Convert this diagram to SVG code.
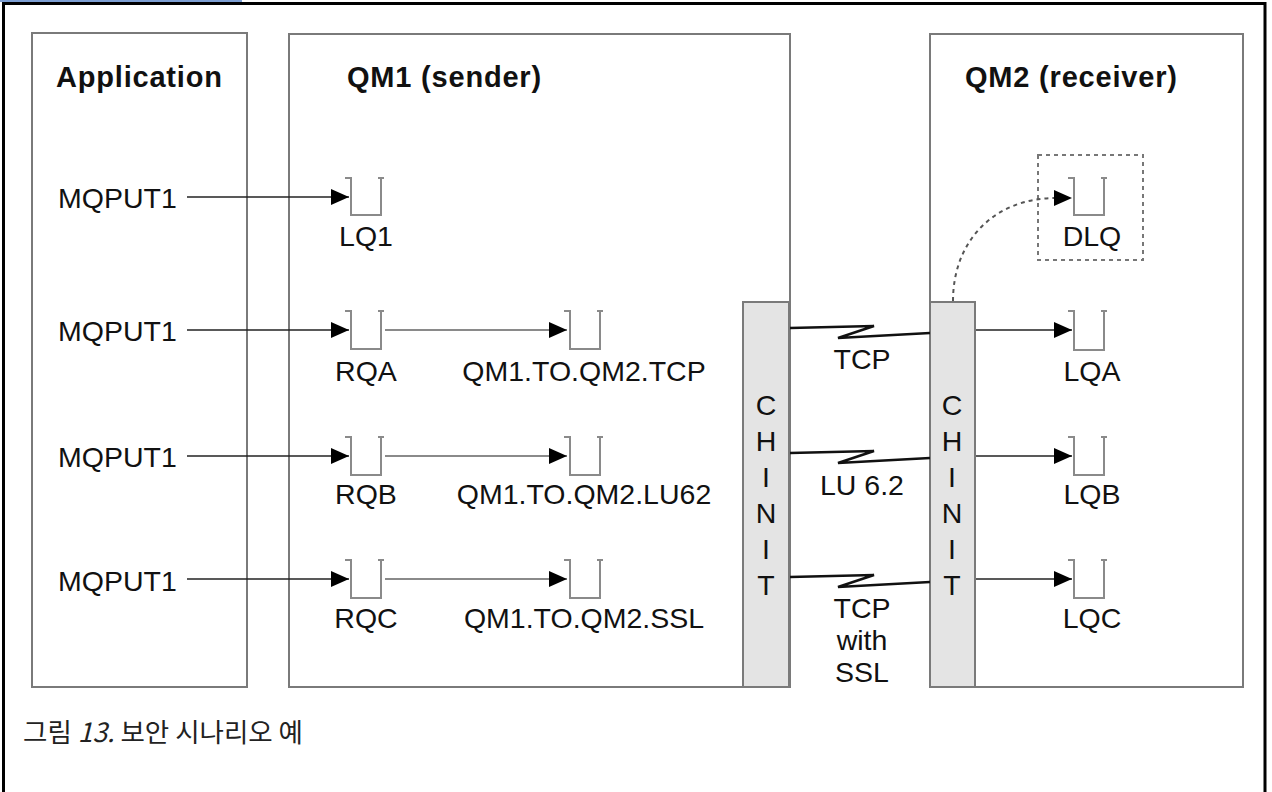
<svg xmlns="http://www.w3.org/2000/svg" width="1272" height="792" viewBox="0 0 1272 792">
<defs>
<style>
.box{fill:#fff;stroke:#7a7a7a;stroke-width:2}
.chin{fill:#e4e4e4;stroke:#7a7a7a;stroke-width:2}
.t{font-family:"Liberation Sans",Arial,sans-serif;font-size:28.5px;fill:#111}
.h{font-family:"Liberation Sans",Arial,sans-serif;font-size:29px;font-weight:bold;letter-spacing:0.8px;fill:#111}
.q{fill:none;stroke:#8a8a8a;stroke-width:2}
.ln{fill:none;stroke:#222;stroke-width:1.5}
.gl{fill:none;stroke:#8a8a8a;stroke-width:2}
.z{fill:none;stroke:#111;stroke-width:2.5;stroke-linejoin:miter}
.cap{font-family:"Noto Sans CJK KR","Noto Sans",sans-serif;font-size:26.5px;fill:#222}
</style>
<marker id="ah" viewBox="0 0 18 16" refX="18" refY="8" markerWidth="18" markerHeight="16" markerUnits="userSpaceOnUse" orient="auto">
<path d="M0,0 L18,8 L0,16 Z" fill="#000"/>
</marker>
</defs>
<rect x="0" y="0" width="1272" height="792" fill="#fff"/>
<rect x="0" y="0" width="242" height="2" fill="#7d9fd3"/>
<path d="M3.5,792 V3.5 H1265 V792" fill="none" stroke="#000" stroke-width="3"/>

<g id="application">
<rect class="box" x="32" y="33" width="215" height="654"/>
<text class="h" x="56" y="87">Application</text>
<text class="t" x="58" y="207.5">MQPUT1</text>
<text class="t" x="58" y="340.5">MQPUT1</text>
<text class="t" x="58" y="466.5">MQPUT1</text>
<text class="t" x="58" y="590.5">MQPUT1</text>
</g>

<g id="qm1">
<rect class="box" x="289" y="34" width="501" height="653"/>
<text class="h" x="347" y="87">QM1 (sender)</text>
</g>

<g id="qm2">
<rect class="box" x="930" y="34" width="313" height="653"/>
<text class="h" x="965" y="87">QM2 (receiver)</text>
</g>

<g id="chinit1">
<rect class="chin" x="743" y="302" width="46" height="385"/>
<g class="t" text-anchor="middle">
<text x="766" y="415">C</text><text x="766" y="451">H</text><text x="766" y="487">I</text>
<text x="766" y="523">N</text><text x="766" y="559">I</text><text x="766" y="595">T</text>
</g>
</g>

<g id="chinit2">
<rect class="chin" x="930" y="302" width="45" height="385"/>
<g class="t" text-anchor="middle">
<text x="952" y="415">C</text><text x="952" y="451">H</text><text x="952" y="487">I</text>
<text x="952" y="523">N</text><text x="952" y="559">I</text><text x="952" y="595">T</text>
</g>
</g>

<g id="lq1">
<path class="q" d="M345,178 H351 V215 H381 V177 M378,178 H384"/>
<text class="t" x="366" y="246" text-anchor="middle">LQ1</text>
</g>
<g id="rqa">
<path class="q" d="M345,311 H351 V349 H381 V310 M378,311 H384"/>
<text class="t" x="366" y="381" text-anchor="middle">RQA</text>
</g>
<g id="rqb">
<path class="q" d="M345,437 H351 V475 H381 V436 M378,437 H384"/>
<text class="t" x="366" y="504" text-anchor="middle">RQB</text>
</g>
<g id="rqc">
<path class="q" d="M345,560 H351 V598 H381 V559 M378,560 H384"/>
<text class="t" x="366" y="628" text-anchor="middle">RQC</text>
</g>
<g id="xq-tcp">
<path class="q" d="M564,311 H570 V349 H600 V310 M597,311 H603"/>
<text class="t" x="584" y="381" text-anchor="middle">QM1.TO.QM2.TCP</text>
</g>
<g id="xq-lu62">
<path class="q" d="M564,437 H570 V475 H600 V436 M597,437 H603"/>
<text class="t" x="584" y="504" text-anchor="middle">QM1.TO.QM2.LU62</text>
</g>
<g id="xq-ssl">
<path class="q" d="M564,560 H570 V598 H600 V559 M597,560 H603"/>
<text class="t" x="584" y="628" text-anchor="middle">QM1.TO.QM2.SSL</text>
</g>
<g id="dlq">
<rect x="1038" y="155" width="105" height="105" fill="none" stroke="#777" stroke-width="2" stroke-dasharray="4,4"/>
<path class="q" d="M1068,178 H1074 V215 H1104 V177 M1101,178 H1107"/>
<text class="t" x="1092" y="246" text-anchor="middle">DLQ</text>
</g>
<g id="lqa">
<path class="q" d="M1068,311 H1074 V350 H1104 V310 M1101,311 H1107"/>
<text class="t" x="1092" y="381" text-anchor="middle">LQA</text>
</g>
<g id="lqb">
<path class="q" d="M1068,437 H1074 V475 H1104 V436 M1101,437 H1107"/>
<text class="t" x="1092" y="504" text-anchor="middle">LQB</text>
</g>
<g id="lqc">
<path class="q" d="M1068,560 H1074 V598 H1104 V559 M1101,560 H1107"/>
<text class="t" x="1092" y="628" text-anchor="middle">LQC</text>
</g>

<g id="connectors">
<line class="ln" x1="187" y1="197" x2="349" y2="197" marker-end="url(#ah)"/>
<line class="ln" x1="187" y1="330" x2="349" y2="330" marker-end="url(#ah)"/>
<line class="ln" x1="187" y1="456" x2="349" y2="456" marker-end="url(#ah)"/>
<line class="ln" x1="187" y1="579" x2="349" y2="579" marker-end="url(#ah)"/>
<line class="gl" x1="385" y1="330" x2="567" y2="330" marker-end="url(#ah)"/>
<line class="gl" x1="385" y1="456" x2="567" y2="456" marker-end="url(#ah)"/>
<line class="gl" x1="385" y1="579" x2="567" y2="579" marker-end="url(#ah)"/>
<line class="ln" x1="976" y1="330" x2="1072" y2="330" marker-end="url(#ah)"/>
<line class="ln" x1="976" y1="456" x2="1072" y2="456" marker-end="url(#ah)"/>
<line class="ln" x1="976" y1="579" x2="1072" y2="579" marker-end="url(#ah)"/>
<path d="M953,301 C953,240 995,198 1056,198" fill="none" stroke="#555" stroke-width="2" stroke-dasharray="4,4"/>
<line x1="1054" y1="198" x2="1072" y2="198" stroke="none" marker-end="url(#ah)"/>
<polyline class="z" points="790,328 874,326 838,338 930,333"/>
<polyline class="z" points="790,453 874,451 838,463 930,458"/>
<polyline class="z" points="790,577 874,575 838,587 930,582"/>
<text class="t" x="862" y="369" text-anchor="middle">TCP</text>
<text class="t" x="862" y="495" text-anchor="middle">LU 6.2</text>
<text class="t" x="862" y="618" text-anchor="middle">TCP</text>
<text class="t" x="862" y="650" text-anchor="middle">with</text>
<text class="t" x="862" y="682" text-anchor="middle">SSL</text>
</g>

<text class="cap" x="23" y="742">그림 <tspan font-style="italic">13.</tspan> 보안 시나리오 예</text>
</svg>
